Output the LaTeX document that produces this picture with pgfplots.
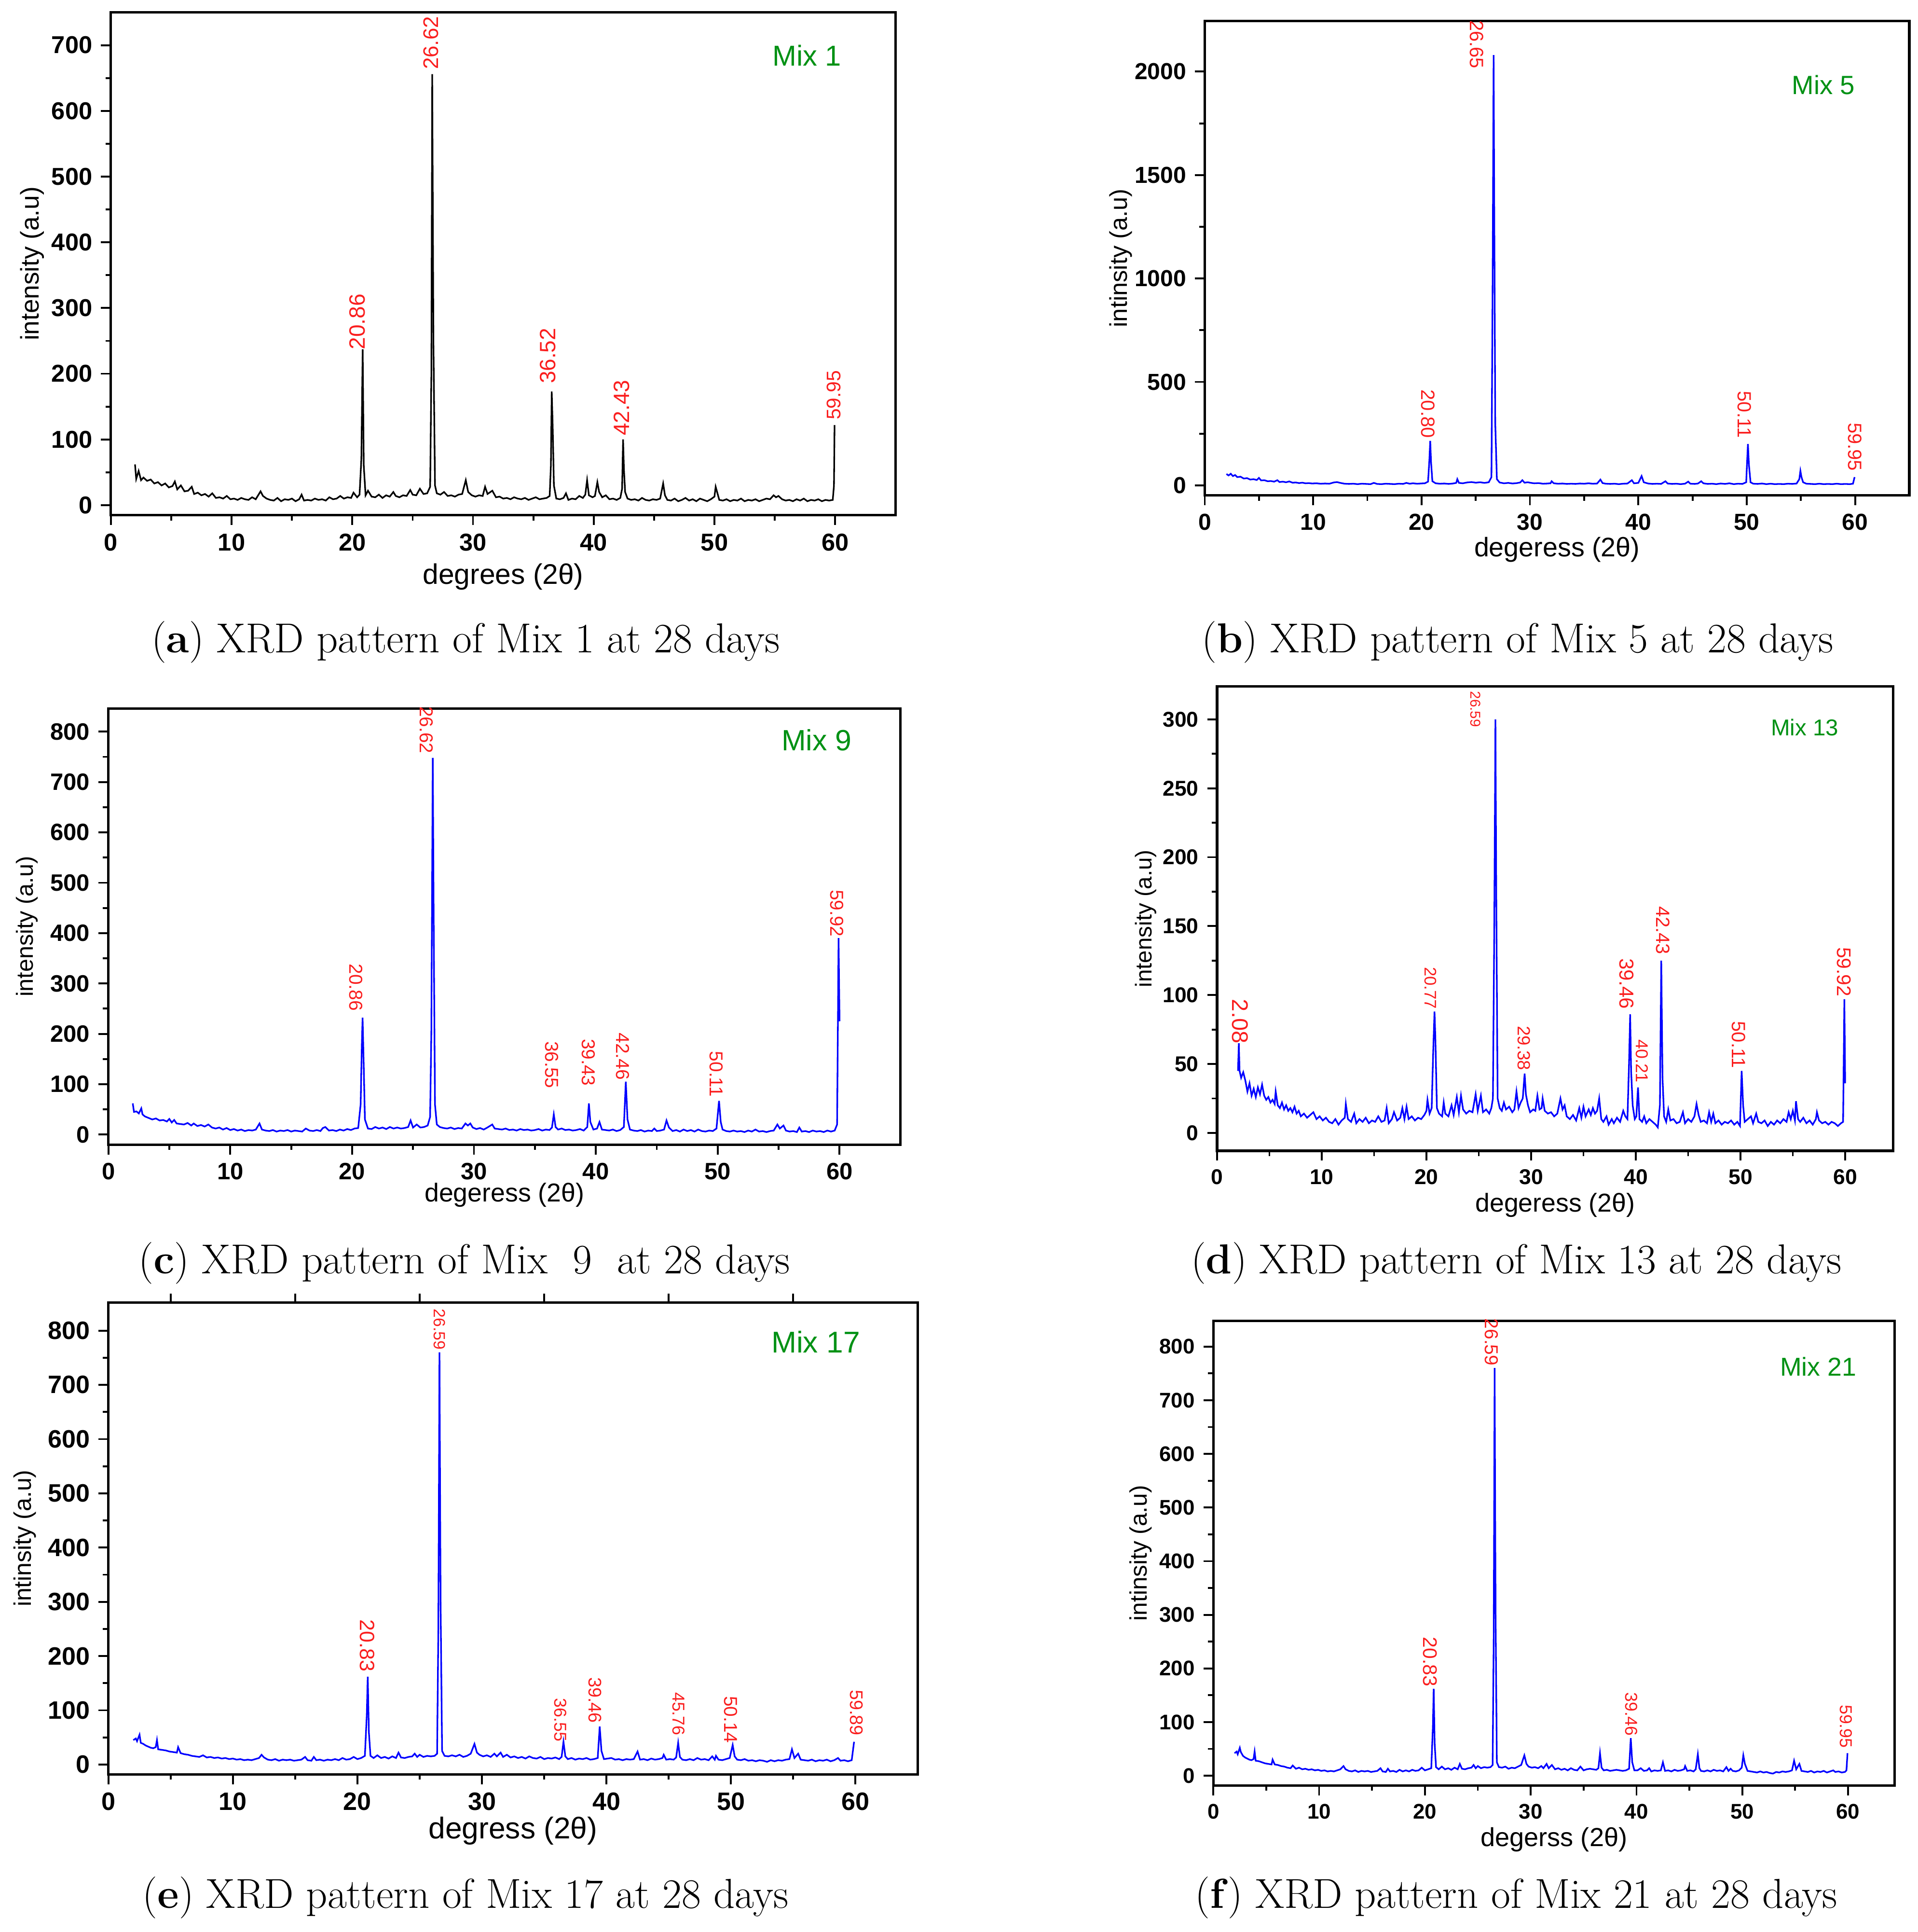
\documentclass[border=0pt]{standalone}
\usepackage{fontspec}
\usepackage{pgfplots}
\pgfplotsset{compat=1.18}
\newfontfamily\arial{Liberation Sans}
\definecolor{mixgreen}{RGB}{0,145,20}
\definecolor{pkred}{RGB}{250,30,30}
\definecolor{xrdblue}{RGB}{0,0,255}
\pgfplotsset{
  xrd/.style={
    scale only axis, anchor=south west,
    xmin=0, xmax=65, xtick={0,10,20,30,40,50,60},
    minor x tick num=1, minor y tick num=1,
    tick align=outside, tick pos=left,
    major tick length=4pt, minor tick length=2.2pt,
    every tick/.append style={black, line width=0.75pt},
    axis line style={line width=1pt},
    tick label style={font=\arial\bfseries\fontsize{#1}{#1}\selectfont},
    /pgf/number format/assume math mode=true,
    /pgf/number format/1000 sep={},
    scaled y ticks=false,
    clip mode=individual,
  },
  every axis plot/.append style={line width=0.65pt},
}
\newcommand{\pk}[4]{\node[rotate=-90, anchor=east, inner sep=0.6pt, text=pkred, font=\arial\fontsize{#3}{#3}\selectfont] at (axis cs:#1,#2) {#4};}
\newcommand{\pka}[4]{\node[rotate=90, anchor=west, inner sep=0.6pt, text=pkred, font=\arial\fontsize{#3}{#3}\selectfont] at (axis cs:#1,#2) {#4};}
\newcommand{\xl}[2]{\node[font=\arial\fontsize{#1}{#1}\selectfont] at ([yshift=-#2]axis description cs:0.5,0) }
\newcommand{\yl}[2]{\node[rotate=90, font=\arial\fontsize{#1}{#1}\selectfont] at ([xshift=-#2]axis description cs:0,0.5) }
\newcommand{\mix}[3]{\node[font=\arial\fontsize{#3}{#3}\selectfont, text=mixgreen] at (axis description cs:#1,#2) }
\begin{document}
\begin{tikzpicture}
\path[use as bounding box] (0,0) rectangle (778.5pt,784pt);
%% (a)
\begin{axis}[xrd=9.9, at={(45pt,575pt)}, width=318.5pt, height=204pt,
  ymin=-15, ymax=750, ytick={0,100,...,700}]
\addplot[black] coordinates {(2.0,62)(2.1,40)(2.3,52)(2.5,38)(2.7,42)(3.0,37)(3.3,39)(3.6,33)(3.9,35)(4.2,30)(4.5,33)(4.8,27)(5.1,29)(5.3,36)(5.5,24)(5.8,30)(6.1,21)(6.4,22)(6.7,28)(6.9,17)(7.2,19)(7.5,15)(7.8,17)(8.1,13)(8.4,18)(8.7,11)(9.0,12)(9.3,10)(9.6,14)(9.9,9)(10.2,10)(10.5,8)(10.8,11)(11.1,9)(11.4,8)(11.7,12)(12.0,9)(12.2,15)(12.4,21)(12.6,14)(12.9,10)(13.2,8)(13.5,7)(13.8,11)(14.1,6)(14.4,9)(14.7,8)(15.0,10)(15.3,6)(15.6,9)(15.8,16)(16.0,7)(16.3,8)(16.6,7)(16.9,10)(17.2,8)(17.5,9)(17.8,7)(18.1,12)(18.4,9)(18.7,10)(19.0,14)(19.3,10)(19.6,12)(19.9,11)(20.1,19)(20.4,12)(20.6,16)(20.75,70)(20.86,237)(20.95,60)(21.1,15)(21.3,22)(21.6,13)(21.9,12)(22.2,16)(22.5,11)(22.8,15)(23.1,13)(23.4,20)(23.6,14)(23.9,12)(24.2,15)(24.5,14)(24.8,23)(25.0,16)(25.3,15)(25.6,25)(25.9,17)(26.2,18)(26.45,28)(26.55,200)(26.62,656)(26.72,250)(26.85,30)(27.0,18)(27.3,16)(27.6,20)(27.9,14)(28.2,15)(28.5,13)(28.8,16)(29.1,17)(29.4,38)(29.6,20)(29.9,15)(30.2,13)(30.5,15)(30.8,14)(31.0,28)(31.2,17)(31.6,22)(31.9,12)(32.2,13)(32.5,10)(32.8,11)(33.1,9)(33.4,12)(33.7,10)(34.0,9)(34.3,11)(34.6,8)(34.9,10)(35.2,12)(35.5,9)(35.8,10)(36.1,11)(36.35,14)(36.45,60)(36.52,173)(36.6,120)(36.7,30)(36.9,10)(37.2,9)(37.5,11)(37.7,18)(37.9,8)(38.2,10)(38.5,9)(38.8,14)(39.1,11)(39.3,16)(39.45,38)(39.6,15)(39.9,12)(40.1,14)(40.3,35)(40.45,20)(40.7,12)(41.0,15)(41.3,9)(41.6,10)(41.9,8)(42.2,11)(42.35,25)(42.43,100)(42.5,55)(42.6,20)(42.8,10)(43.1,8)(43.4,9)(43.7,7)(44.0,11)(44.3,8)(44.6,7)(44.9,9)(45.2,8)(45.5,10)(45.75,33)(45.9,15)(46.1,8)(46.4,7)(46.7,10)(47.0,6)(47.3,8)(47.6,11)(47.9,7)(48.2,9)(48.5,6)(48.8,10)(49.1,8)(49.4,6)(49.7,9)(50.0,13)(50.1,28)(50.25,18)(50.4,8)(50.7,7)(51.0,9)(51.3,6)(51.6,8)(51.9,7)(52.2,10)(52.5,6)(52.8,8)(53.1,7)(53.4,9)(53.7,6)(54.0,8)(54.3,10)(54.6,9)(54.9,15)(55.1,12)(55.3,14)(55.6,9)(55.9,7)(56.2,8)(56.5,6)(56.8,9)(57.1,7)(57.4,10)(57.7,6)(58.0,8)(58.3,7)(58.6,9)(58.9,6)(59.2,8)(59.5,7)(59.8,8)(59.9,30)(59.95,122)};
\pka{26.5}{660}{8.6}{26.62}
\pka{20.4}{234}{9}{20.86}
\pka{36.2}{182}{9}{36.52}
\pka{42.3}{103}{9}{42.43}
\pka{59.9}{127}{8}{59.95}
\mix{0.887}{0.914}{11.7}{Mix 1};
\xl{11.5}{25pt}{degrees (2θ)};
\yl{10.4}{32pt}{intensity (a.u)};
\end{axis}
%% (b)
\begin{axis}[xrd=9.4, at={(489pt,583pt)}, width=286pt, height=192.5pt,
  ymin=-48, ymax=2245, ytick={0,500,...,2000}]
\addplot[xrdblue] coordinates {(2.0,55)(2.2,48)(2.4,56)(2.6,45)(2.8,50)(3.0,40)(3.3,42)(3.6,33)(3.9,35)(4.2,28)(4.5,30)(4.8,26)(5.0,36)(5.2,24)(5.5,25)(5.8,20)(6.1,21)(6.4,18)(6.7,25)(6.9,16)(7.2,18)(7.5,15)(7.8,19)(8.1,13)(8.4,14)(8.7,11)(9.0,13)(9.3,10)(9.6,11)(9.9,9)(10.3,10)(10.7,8)(11.1,9)(11.5,8)(11.9,14)(12.2,16)(12.5,12)(12.9,8)(13.3,7)(13.7,8)(14.1,6)(14.5,8)(14.9,7)(15.3,6)(15.6,12)(15.9,7)(16.3,6)(16.7,8)(17.1,7)(17.5,6)(17.9,8)(18.3,7)(18.6,12)(18.9,8)(19.2,10)(19.6,8)(19.9,9)(20.3,10)(20.6,18)(20.72,120)(20.8,215)(20.88,110)(21.0,20)(21.3,10)(21.7,8)(22.1,9)(22.5,7)(22.9,9)(23.2,12)(23.3,30)(23.45,12)(23.8,10)(24.2,14)(24.6,16)(25.0,13)(25.4,15)(25.8,12)(26.2,15)(26.45,40)(26.55,900)(26.65,2080)(26.72,1200)(26.8,300)(26.95,30)(27.2,14)(27.6,10)(28.0,12)(28.4,9)(28.8,11)(29.1,14)(29.3,25)(29.5,13)(29.8,15)(30.1,12)(30.4,10)(30.8,11)(31.2,8)(31.6,9)(31.9,10)(32.0,20)(32.2,10)(32.6,8)(33.0,9)(33.4,7)(33.8,8)(34.2,7)(34.6,9)(35.0,8)(35.4,10)(35.8,8)(36.2,9)(36.5,28)(36.7,11)(37.0,8)(37.4,7)(37.8,8)(38.2,6)(38.6,8)(39.0,9)(39.4,25)(39.6,10)(40.0,12)(40.3,45)(40.5,15)(40.9,9)(41.3,7)(41.7,8)(42.1,7)(42.5,20)(42.7,9)(43.1,7)(43.5,8)(43.9,6)(44.3,8)(44.6,18)(44.8,8)(45.2,7)(45.5,9)(45.8,20)(46.0,10)(46.4,7)(46.8,8)(47.2,6)(47.6,9)(48.0,7)(48.4,10)(48.8,6)(49.2,8)(49.6,7)(49.95,15)(50.03,110)(50.11,200)(50.2,100)(50.35,15)(50.6,8)(51.0,7)(51.4,9)(51.8,6)(52.2,8)(52.6,6)(53.0,7)(53.4,6)(53.8,8)(54.2,7)(54.6,9)(54.85,30)(54.95,70)(55.05,40)(55.2,15)(55.5,8)(55.9,7)(56.3,6)(56.7,8)(57.1,6)(57.5,7)(57.9,6)(58.3,8)(58.7,6)(59.1,7)(59.5,6)(59.8,8)(59.95,40)};
\pk{25.1}{2006}{7.8}{26.65}
\pk{20.6}{220}{7.8}{20.80}
\pk{49.8}{220}{7.8}{50.11}
\pk{60.0}{60}{7.8}{59.95}
\mix{0.878}{0.865}{10.7}{Mix 5};
\xl{10.9}{22pt}{degeress (2θ)};
\yl{9.9}{34pt}{intinsity (a.u)};
\end{axis}
%% (c)
\begin{axis}[xrd=9.6, at={(44pt,319.5pt)}, width=321.5pt, height=177pt,
  ymin=-20, ymax=846, ytick={0,100,...,800}]
\addplot[xrdblue] coordinates {(2.0,62)(2.1,45)(2.3,46)(2.5,42)(2.7,52)(2.8,40)(3.0,36)(3.3,33)(3.6,30)(3.9,32)(4.2,28)(4.5,29)(4.8,26)(5.0,31)(5.2,24)(5.4,29)(5.6,22)(5.9,21)(6.2,20)(6.5,23)(6.8,18)(7.0,22)(7.3,17)(7.6,19)(7.9,16)(8.2,20)(8.5,14)(8.8,12)(9.1,14)(9.4,10)(9.7,13)(10.0,9)(10.3,11)(10.6,8)(10.9,10)(11.2,7)(11.5,9)(11.8,8)(12.1,10)(12.4,22)(12.6,10)(12.9,8)(13.2,7)(13.5,9)(13.8,6)(14.1,8)(14.4,7)(14.7,9)(15.0,6)(15.3,8)(15.6,7)(15.9,6)(16.2,12)(16.5,8)(16.8,7)(17.1,9)(17.4,7)(17.6,13)(17.8,15)(18.1,8)(18.4,9)(18.7,7)(19.0,10)(19.3,8)(19.6,11)(19.9,9)(20.2,12)(20.5,13)(20.7,60)(20.8,180)(20.86,232)(20.95,140)(21.05,30)(21.3,12)(21.6,11)(21.9,15)(22.2,12)(22.5,14)(22.8,11)(23.1,15)(23.4,12)(23.7,14)(24.0,12)(24.3,13)(24.6,15)(24.8,28)(25.0,14)(25.3,20)(25.6,14)(25.9,15)(26.2,18)(26.4,35)(26.5,200)(26.62,748)(26.7,400)(26.8,60)(26.95,20)(27.2,15)(27.5,13)(27.8,12)(28.1,14)(28.4,11)(28.7,13)(29.0,12)(29.3,22)(29.5,18)(29.7,22)(29.9,14)(30.2,11)(30.5,13)(30.8,10)(31.1,14)(31.3,17)(31.5,20)(31.7,12)(32.0,11)(32.3,10)(32.6,12)(32.9,9)(33.2,10)(33.5,8)(33.8,11)(34.1,9)(34.4,10)(34.7,8)(35.0,9)(35.3,11)(35.6,8)(35.9,10)(36.2,9)(36.4,14)(36.55,40)(36.7,15)(36.9,10)(37.2,12)(37.5,9)(37.8,10)(38.1,8)(38.4,9)(38.7,11)(39.0,8)(39.3,15)(39.43,62)(39.55,25)(39.8,10)(40.1,12)(40.3,25)(40.5,10)(40.8,9)(41.1,8)(41.4,10)(41.7,7)(42.0,9)(42.3,15)(42.46,105)(42.6,30)(42.8,10)(43.1,8)(43.4,7)(43.7,9)(44.0,6)(44.3,8)(44.6,7)(44.8,12)(45.0,7)(45.3,8)(45.6,10)(45.8,28)(46.0,14)(46.3,7)(46.6,9)(46.9,6)(47.2,10)(47.5,7)(47.8,9)(48.1,6)(48.4,10)(48.7,7)(49.0,6)(49.3,8)(49.6,7)(49.9,12)(50.11,67)(50.25,25)(50.4,10)(50.7,7)(51.0,6)(51.3,8)(51.6,6)(51.9,7)(52.2,5)(52.5,8)(52.8,6)(53.1,10)(53.4,6)(53.7,7)(54.0,5)(54.3,7)(54.6,8)(54.9,20)(55.1,12)(55.4,18)(55.6,8)(55.9,6)(56.2,7)(56.5,5)(56.7,14)(56.9,6)(57.2,7)(57.5,5)(57.8,8)(58.1,6)(58.4,7)(58.7,5)(59.0,8)(59.3,6)(59.6,8)(59.8,20)(59.92,390)(60.0,225)};
\pk{26.1}{753}{7.6}{26.62}
\pk{20.3}{242}{7.6}{20.86}
\pk{36.4}{88}{7.6}{36.55}
\pk{39.4}{93}{7.6}{39.43}
\pk{42.2}{105}{7.6}{42.46}
\pk{49.9}{71}{7.6}{50.11}
\pk{59.8}{389}{7.6}{59.92}
\mix{0.894}{0.927}{11.9}{Mix 9};
\xl{10.5}{20.5pt}{degeress (2θ)};
\yl{9.5}{33pt}{intensity (a.u)};
\end{axis}
%% (d)
\begin{axis}[xrd=8.7, at={(494pt,317pt)}, width=274.5pt, height=188.5pt,
  xmax=64.6, ymin=-13, ymax=324, ytick={0,50,...,300}]
\addplot[xrdblue] coordinates {(2.0,45)(2.08,65)(2.15,45)(2.3,40)(2.5,44)(2.7,38)(2.9,30)(3.1,36)(3.3,27)(3.5,32)(3.7,26)(3.9,33)(4.1,28)(4.3,35)(4.5,27)(4.7,24)(4.9,26)(5.1,22)(5.3,24)(5.5,21)(5.6,30)(5.8,20)(6.0,18)(6.2,22)(6.4,17)(6.6,20)(6.8,16)(7.0,18)(7.2,15)(7.4,19)(7.6,14)(7.8,16)(8.0,12)(8.3,14)(8.6,11)(8.9,13)(9.2,15)(9.5,10)(9.8,12)(10.1,9)(10.4,11)(10.7,8)(11.0,7)(11.3,10)(11.6,6)(11.9,9)(12.2,11)(12.3,21)(12.5,10)(12.8,8)(13.1,14)(13.3,7)(13.6,10)(13.9,8)(14.2,11)(14.5,7)(14.8,9)(15.1,8)(15.4,12)(15.7,8)(16.0,9)(16.2,18)(16.4,7)(16.7,10)(16.9,15)(17.2,9)(17.5,11)(17.7,18)(17.9,10)(18.1,19)(18.3,10)(18.6,12)(18.9,9)(19.2,11)(19.5,10)(19.8,13)(20.0,16)(20.1,24)(20.3,14)(20.5,18)(20.65,60)(20.77,88)(20.85,70)(21.0,18)(21.2,14)(21.5,12)(21.65,22)(21.8,14)(22.1,12)(22.4,20)(22.6,13)(22.9,26)(23.1,15)(23.3,27)(23.5,17)(23.8,14)(24.1,16)(24.4,15)(24.7,28)(24.9,16)(25.2,27)(25.4,15)(25.7,17)(26.0,14)(26.2,18)(26.35,25)(26.48,150)(26.59,300)(26.68,160)(26.8,25)(27.0,18)(27.2,16)(27.4,22)(27.6,17)(27.9,19)(28.2,15)(28.4,17)(28.6,30)(28.8,18)(29.0,22)(29.2,25)(29.38,43)(29.5,28)(29.7,20)(29.9,15)(30.2,17)(30.4,16)(30.6,27)(30.8,17)(31.0,18)(31.1,25)(31.3,16)(31.6,14)(31.9,15)(32.2,12)(32.5,14)(32.8,25)(33.0,17)(33.2,20)(33.4,12)(33.7,10)(34.0,13)(34.3,9)(34.6,18)(34.8,11)(35.0,19)(35.2,12)(35.5,17)(35.7,13)(35.9,18)(36.1,14)(36.3,16)(36.5,25)(36.7,10)(36.9,8)(37.2,12)(37.4,6)(37.7,10)(37.9,7)(38.2,11)(38.5,8)(38.8,16)(39.0,12)(39.2,10)(39.35,50)(39.46,86)(39.55,45)(39.7,20)(39.9,10)(40.05,12)(40.21,33)(40.35,10)(40.6,8)(40.8,12)(41.0,7)(41.3,10)(41.6,8)(41.9,6)(42.1,4)(42.3,20)(42.43,125)(42.55,40)(42.7,12)(42.9,8)(43.1,17)(43.3,9)(43.6,10)(43.9,7)(44.2,8)(44.5,15)(44.7,7)(45.0,10)(45.3,8)(45.6,12)(45.8,21)(46.0,13)(46.2,8)(46.5,9)(46.8,7)(47.0,15)(47.2,8)(47.4,14)(47.6,7)(47.9,9)(48.2,6)(48.5,8)(48.8,7)(49.1,9)(49.4,6)(49.7,8)(49.95,5)(50.11,45)(50.25,20)(50.4,8)(50.7,10)(51.0,12)(51.2,7)(51.5,14)(51.7,8)(52.0,7)(52.3,9)(52.6,5)(52.9,8)(53.2,6)(53.5,9)(53.8,7)(54.1,10)(54.4,8)(54.6,15)(54.8,10)(55.0,16)(55.2,9)(55.3,23)(55.5,10)(55.7,8)(56.0,11)(56.3,7)(56.6,9)(56.9,6)(57.2,10)(57.3,15)(57.5,9)(57.8,7)(58.1,8)(58.4,6)(58.7,8)(59.0,7)(59.3,5)(59.6,7)(59.8,8)(59.92,97)(60.0,36)};
\pk{24.7}{293}{5.8}{26.59}
\pk{2.2}{63.5}{9.2}{2.08}
\pk{20.4}{88.5}{6.8}{20.77}
\pk{29.3}{44}{7.2}{29.38}
\pk{39.1}{88.5}{8.2}{39.46}
\pk{40.6}{35}{7}{40.21}
\pk{42.6}{128}{7.8}{42.43}
\pk{49.8}{45.6}{7.8}{50.11}
\pk{59.9}{97.5}{8}{59.92}
\mix{0.869}{0.912}{9.3}{Mix 13};
\xl{10.5}{22pt}{degeress (2θ)};
\yl{9.3}{29pt}{intensity (a.u)};
\end{axis}
%% (e)
\begin{axis}[xrd=10.2, at={(44pt,64pt)}, width=328.5pt, height=191.5pt,
  ymin=-18, ymax=852, ytick={0,100,...,800}]
\addplot[xrdblue] coordinates {(2.0,45)(2.2,48)(2.3,43)(2.5,55)(2.6,40)(2.8,38)(3.0,35)(3.2,33)(3.4,31)(3.6,30)(3.8,32)(3.9,45)(4.0,28)(4.3,27)(4.6,26)(4.9,24)(5.2,23)(5.5,22)(5.6,32)(5.8,21)(6.1,19)(6.4,18)(6.7,16)(7.0,15)(7.3,14)(7.6,17)(7.9,13)(8.2,14)(8.5,12)(8.8,13)(9.1,11)(9.4,12)(9.7,10)(10.0,11)(10.3,9)(10.6,10)(10.9,8)(11.2,9)(11.5,8)(11.8,10)(12.1,12)(12.3,18)(12.5,13)(12.8,9)(13.1,8)(13.4,10)(13.7,7)(14.0,9)(14.3,8)(14.6,9)(14.9,7)(15.2,8)(15.5,9)(15.8,14)(16.0,8)(16.3,7)(16.5,14)(16.7,8)(17.0,9)(17.3,7)(17.6,9)(17.9,8)(18.2,10)(18.5,8)(18.8,12)(19.1,9)(19.4,10)(19.7,14)(20.0,10)(20.3,12)(20.6,16)(20.75,90)(20.83,162)(20.92,60)(21.05,16)(21.3,12)(21.6,17)(21.9,12)(22.2,14)(22.5,11)(22.8,15)(23.1,12)(23.3,22)(23.5,13)(23.8,12)(24.1,14)(24.4,15)(24.6,20)(24.8,14)(25.0,18)(25.3,14)(25.6,16)(25.9,15)(26.2,16)(26.4,20)(26.5,250)(26.59,760)(26.68,300)(26.8,25)(27.0,16)(27.3,15)(27.6,17)(27.9,15)(28.2,18)(28.5,14)(28.8,16)(29.1,20)(29.4,38)(29.6,22)(29.8,18)(30.1,15)(30.4,17)(30.7,14)(31.0,20)(31.2,15)(31.5,22)(31.7,14)(32.0,18)(32.3,13)(32.6,15)(32.9,12)(33.2,14)(33.5,11)(33.8,15)(34.1,12)(34.4,11)(34.7,14)(35.0,10)(35.3,12)(35.6,11)(35.9,13)(36.2,10)(36.4,14)(36.55,42)(36.7,15)(36.9,10)(37.2,12)(37.5,9)(37.8,11)(38.1,10)(38.4,12)(38.7,9)(39.0,10)(39.3,12)(39.46,70)(39.6,25)(39.8,10)(40.1,11)(40.4,12)(40.7,9)(41.0,10)(41.3,8)(41.6,10)(41.9,9)(42.2,10)(42.5,24)(42.7,9)(43.0,10)(43.3,8)(43.6,11)(43.9,9)(44.2,10)(44.5,12)(44.6,18)(44.8,9)(45.1,10)(45.4,9)(45.6,13)(45.76,40)(45.9,14)(46.1,9)(46.4,8)(46.7,10)(47.0,8)(47.3,12)(47.6,9)(47.9,10)(48.2,8)(48.5,15)(48.7,9)(48.8,16)(49.0,9)(49.3,8)(49.6,10)(49.9,12)(50.14,36)(50.3,15)(50.5,9)(50.8,8)(51.1,10)(51.4,7)(51.7,8)(52.0,6)(52.3,8)(52.6,7)(52.9,5)(53.2,8)(53.5,6)(53.8,8)(54.1,7)(54.4,9)(54.7,10)(54.9,28)(55.1,12)(55.4,20)(55.6,9)(55.9,8)(56.2,7)(56.5,9)(56.8,6)(57.1,8)(57.4,7)(57.7,9)(58.0,6)(58.3,8)(58.6,12)(58.8,7)(59.1,8)(59.4,6)(59.7,8)(59.89,42)};
\pk{26.6}{761}{6.6}{26.59}
\pk{20.8}{168}{8.4}{20.83}
\pk{36.3}{39}{7}{36.55}
\pk{39.1}{73}{7.4}{39.46}
\pk{45.8}{50}{7}{45.76}
\pk{50.0}{36}{7.6}{50.14}
\pk{60.1}{50}{7.4}{59.89}
\mix{0.874}{0.916}{12.2}{Mix 17};
\xl{12.2}{23pt}{degress (2θ)};
\yl{9.8}{34pt}{intinsity (a.u)};
\end{axis}
% top ticks of (e)
\begin{axis}[scale only axis, anchor=south west, at={(44pt,64pt)}, width=328.5pt, height=191.5pt,
  xmin=0, xmax=65, ymin=-18, ymax=852, axis x line*=top, axis y line=none,
  xtick={5,15,25,35,45,55}, xticklabels={}, ytick=\empty, tick align=outside,
  major tick length=3.5pt, every tick/.append style={black, line width=0.75pt},
  axis line style={line width=1pt}]
\end{axis}
%% (f)
\begin{axis}[xrd=8.6, at={(492.5pt,59.5pt)}, width=276.5pt, height=188.5pt,
  xmax=64.4, ymin=-18, ymax=848, ytick={0,100,...,800}]
\addplot[xrdblue] coordinates {(2.0,42)(2.2,45)(2.3,40)(2.5,52)(2.6,44)(2.8,37)(3.0,34)(3.2,32)(3.4,30)(3.6,29)(3.8,31)(3.9,45)(4.0,28)(4.3,27)(4.6,25)(4.9,23)(5.2,22)(5.5,21)(5.6,30)(5.8,21)(6.1,20)(6.4,18)(6.7,17)(7.0,15)(7.3,14)(7.5,19)(7.8,13)(8.1,15)(8.4,12)(8.7,13)(9.0,11)(9.3,12)(9.6,10)(9.9,11)(10.2,9)(10.5,10)(10.8,8)(11.1,9)(11.4,8)(11.7,10)(12.0,12)(12.3,18)(12.5,12)(12.8,9)(13.1,8)(13.4,10)(13.7,7)(14.0,9)(14.3,8)(14.6,9)(14.9,7)(15.2,8)(15.5,9)(15.8,14)(16.0,8)(16.3,7)(16.5,13)(16.7,8)(17.0,9)(17.3,7)(17.6,11)(17.9,8)(18.2,10)(18.5,8)(18.8,11)(19.1,9)(19.4,10)(19.7,15)(20.0,10)(20.3,12)(20.6,14)(20.75,90)(20.83,162)(20.92,60)(21.05,16)(21.3,12)(21.6,17)(21.9,12)(22.2,14)(22.5,11)(22.8,15)(23.1,12)(23.3,22)(23.5,13)(23.8,12)(24.1,14)(24.4,15)(24.6,20)(24.8,14)(25.0,18)(25.3,14)(25.6,16)(25.9,15)(26.2,16)(26.4,20)(26.5,250)(26.59,760)(26.68,300)(26.8,25)(27.0,16)(27.3,15)(27.6,17)(27.9,13)(28.2,15)(28.5,14)(28.8,17)(29.1,20)(29.4,38)(29.6,22)(29.8,17)(30.1,15)(30.4,16)(30.7,14)(31.0,18)(31.2,14)(31.5,22)(31.7,14)(32.0,20)(32.3,12)(32.6,14)(32.9,11)(33.2,13)(33.5,10)(33.8,14)(34.1,11)(34.4,10)(34.7,17)(35.0,10)(35.3,12)(35.6,13)(35.9,12)(36.2,11)(36.4,14)(36.55,42)(36.7,15)(36.9,10)(37.2,11)(37.5,9)(37.8,10)(38.1,11)(38.4,10)(38.7,9)(39.0,10)(39.3,13)(39.46,70)(39.6,25)(39.8,10)(40.1,10)(40.4,14)(40.7,9)(41.0,10)(41.2,14)(41.4,8)(41.7,10)(42.0,9)(42.3,10)(42.5,25)(42.7,9)(43.0,10)(43.3,8)(43.6,11)(43.9,9)(44.2,10)(44.5,12)(44.6,18)(44.8,9)(45.1,10)(45.4,8)(45.6,12)(45.8,40)(45.95,14)(46.1,9)(46.4,8)(46.7,10)(47.0,8)(47.3,11)(47.6,9)(47.9,10)(48.2,8)(48.5,16)(48.7,9)(48.9,13)(49.1,9)(49.4,8)(49.7,10)(49.95,15)(50.1,38)(50.25,22)(50.5,9)(50.8,8)(51.1,7)(51.4,6)(51.7,8)(52.0,6)(52.3,7)(52.6,5)(52.9,4)(53.2,7)(53.5,6)(53.8,8)(54.1,7)(54.4,8)(54.7,10)(54.9,28)(55.1,12)(55.4,22)(55.6,9)(55.9,8)(56.2,7)(56.5,9)(56.8,6)(57.1,8)(57.4,7)(57.7,9)(58.0,6)(58.3,8)(58.6,10)(58.8,7)(59.1,8)(59.4,6)(59.7,7)(59.85,10)(59.95,42)};
\pk{26.3}{761}{7.6}{26.59}
\pk{20.5}{163}{8}{20.83}
\pk{39.5}{71}{7}{39.46}
\pk{59.8}{48}{7}{59.95}
\mix{0.888}{0.902}{10.5}{Mix 21};
\xl{10.6}{22pt}{degerss (2θ)};
\yl{9.7}{29.5pt}{intinsity (a.u)};
\end{axis}
%% captions
\begin{scope}[every node/.style={font=\fontsize{17}{20}\selectfont}]
\node at (189pt,523.5pt) {(\textbf{a}) XRD pattern of Mix 1 at 28 days};
\node at (616pt,523.5pt) {(\textbf{b}) XRD pattern of Mix 5 at 28 days};
\node at (188.5pt,271.5pt) {(\textbf{c}) XRD pattern of Mix\ \ 9\ \ at 28 days};
\node at (615.5pt,271.5pt) {(\textbf{d}) XRD pattern of Mix 13 at 28 days};
\node at (189pt,14pt) {(\textbf{e}) XRD pattern of Mix 17 at 28 days};
\node at (615.5pt,14pt) {(\textbf{f}) XRD pattern of Mix 21 at 28 days};
\end{scope}
\end{tikzpicture}
\end{document}
